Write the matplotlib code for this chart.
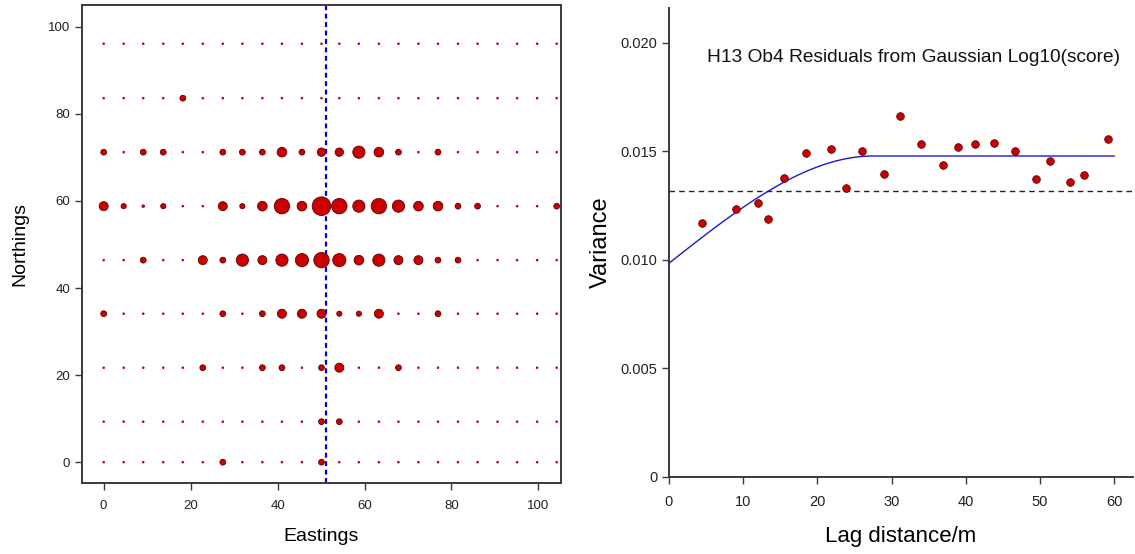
import numpy as np
import matplotlib
matplotlib.use("Agg")
import matplotlib.pyplot as plt

plt.rcParams['font.family'] = ['Liberation Sans', 'DejaVu Sans']

# ---- left panel: residual bubble map ----
eastings = [0, 4.6, 9.1, 13.7, 18.2, 22.8, 27.4, 31.9, 36.5, 41.0, 45.6, 50.1,
            54.2, 58.7, 63.3, 67.8, 72.4, 76.9, 81.5, 86.0, 90.6, 95.1, 99.7, 104.2]
northings = [0, 9.3, 21.7, 34.1, 46.4, 58.8, 71.2, 83.6, 96.1]
transect_x = 51.1

# absolute residual per grid node, one row per northing (bottom to top)
resid_abs = [
    [0, 0, 0, 0, 0, 0, .1, 0, 0, 0, 0, .1, 0, 0, 0, 0, 0, 0, 0, 0, 0, 0, 0, 0],
    [0, 0, 0, 0, 0, 0, 0, 0, 0, 0, 0, .1, .1, 0, 0, 0, 0, 0, 0, 0, 0, 0, 0, 0],
    [0, 0, 0, 0, 0, .1, 0, 0, .1, .1, 0, .1, .2, 0, 0, .1, 0, 0, 0, 0, 0, 0, 0, 0],
    [.1, 0, 0, 0, 0, 0, .1, 0, .1, .2, .2, .2, .08, .08, .2, 0, 0, .1, 0, 0, 0, 0, 0, 0],
    [0, 0, .1, 0, 0, .2, .1, .3, .2, .3, .33, .4, .33, .22, .3, .2, .2, .1, .1, 0, 0, 0, 0, 0],
    [.2, .08, .03, .08, 0, 0, .2, .08, .22, .4, .22, .5, .4, .3, .4, .3, .22, .22, .1, .1, 0, 0, 0, .1],
    [.1, 0, .1, .1, 0, 0, .1, .1, .1, .22, .1, .18, .18, .3, .22, .1, 0, .1, 0, 0, 0, 0, 0, 0],
    [0, 0, 0, 0, .1, 0, 0, 0, 0, 0, 0, 0, 0, 0, 0, 0, 0, 0, 0, 0, 0, 0, 0, 0],
    [0] * 24,
]

# ---- right panel: variogram of residuals ----
lag = [4.5, 9.1, 12.0, 13.3, 15.5, 18.4, 21.9, 23.9, 26.0, 29.0, 31.1,
       33.9, 36.9, 38.9, 41.3, 43.8, 46.7, 49.4, 51.3, 54.1, 55.9, 59.2]
semivar = [0.01172, 0.01233, 0.01263, 0.01189, 0.01378, 0.01492, 0.01510,
           0.01332, 0.01501, 0.01396, 0.01664, 0.01535, 0.01438, 0.01521,
           0.01536, 0.01538, 0.01502, 0.01372, 0.01458, 0.01359, 0.01390, 0.01558]
sample_var = 0.01319
nugget = 0.00985
sill = 0.01479
vrange = 27.5
max_lag = 60

fig = plt.figure(figsize=(11.35, 5.54), dpi=100)
spine_col = "#3a3a3a"

# left map
ax1 = fig.add_axes([0.0722, 0.128, 0.4221, 0.863])
E, N = np.meshgrid(eastings, northings)
r = np.array(resid_abs)
d_px = 2.6 + 32 * r
sizes = (d_px * 0.72) ** 2
ax1.axvline(transect_x, color="#0000e0", lw=1.6, ls=(0, (2.2, 1.6)), zorder=1)
ax1.scatter(E.ravel(), N.ravel(), s=sizes.ravel(), c="#cc0000",
            edgecolors="#5a0000", linewidths=np.where(r.ravel() > 0.05, 0.6, 0),
            zorder=3)
ax1.set_xlim(-5, 105.2)
ax1.set_ylim(-4.8, 105)
ax1.set_xticks(range(0, 101, 20))
ax1.set_yticks(range(0, 101, 20))
ax1.tick_params(axis="both", direction="out", length=5, width=1, color=spine_col,
                labelsize=9.5, labelcolor="#222222", top=False, right=False)
ax1.tick_params(axis="x", pad=7)
for s in ax1.spines.values():
    s.set_color(spine_col)
    s.set_linewidth(1.4)
ax1.set_xlabel("Eastings", fontsize=14, labelpad=12)
ax1.set_ylabel("Northings", fontsize=14, labelpad=14)

# right variogram
ax2 = fig.add_axes([0.5894, 0.139, 0.4086, 0.8466])
h = np.linspace(0, max_lag, 300)
hr = np.minimum(h / vrange, 1.0)
model = nugget + (sill - nugget) * (1.5 * hr - 0.5 * hr ** 3)
ax2.plot(h, model, color="#1a1acc", lw=1.0, zorder=2)
ax2.axhline(sample_var, color="#222222", lw=1.0, ls=(0, (4, 3)), zorder=1)
ax2.scatter(lag, semivar, s=30, c="#cc0000", edgecolors="#5a0000",
            linewidths=0.6, zorder=3)
ax2.set_xlim(0, 62.5)
ax2.set_ylim(0, 0.02161)
ax2.set_xticks(range(0, 61, 10))
ax2.set_yticks([0, 0.005, 0.010, 0.015, 0.020])
ax2.set_yticklabels(["0", "0.005", "0.010", "0.015", "0.020"])
ax2.spines["top"].set_visible(False)
ax2.spines["right"].set_visible(False)
for k in ("left", "bottom"):
    ax2.spines[k].set_color(spine_col)
    ax2.spines[k].set_linewidth(1.4)
ax2.tick_params(axis="both", direction="out", length=5, width=1, color=spine_col,
                labelsize=10.5, labelcolor="#222222")
ax2.tick_params(axis="x", pad=8)
ax2.set_xlabel("Lag distance/m", fontsize=16, labelpad=12)
ax2.set_ylabel("Variance", fontsize=17, labelpad=6)
ax2.text(33, 0.01932, "H13 Ob4 Residuals from Gaussian Log10(score)",
         ha="center", va="center", fontsize=13.8, color="#111111")

fig.savefig("out.png", dpi=100)
